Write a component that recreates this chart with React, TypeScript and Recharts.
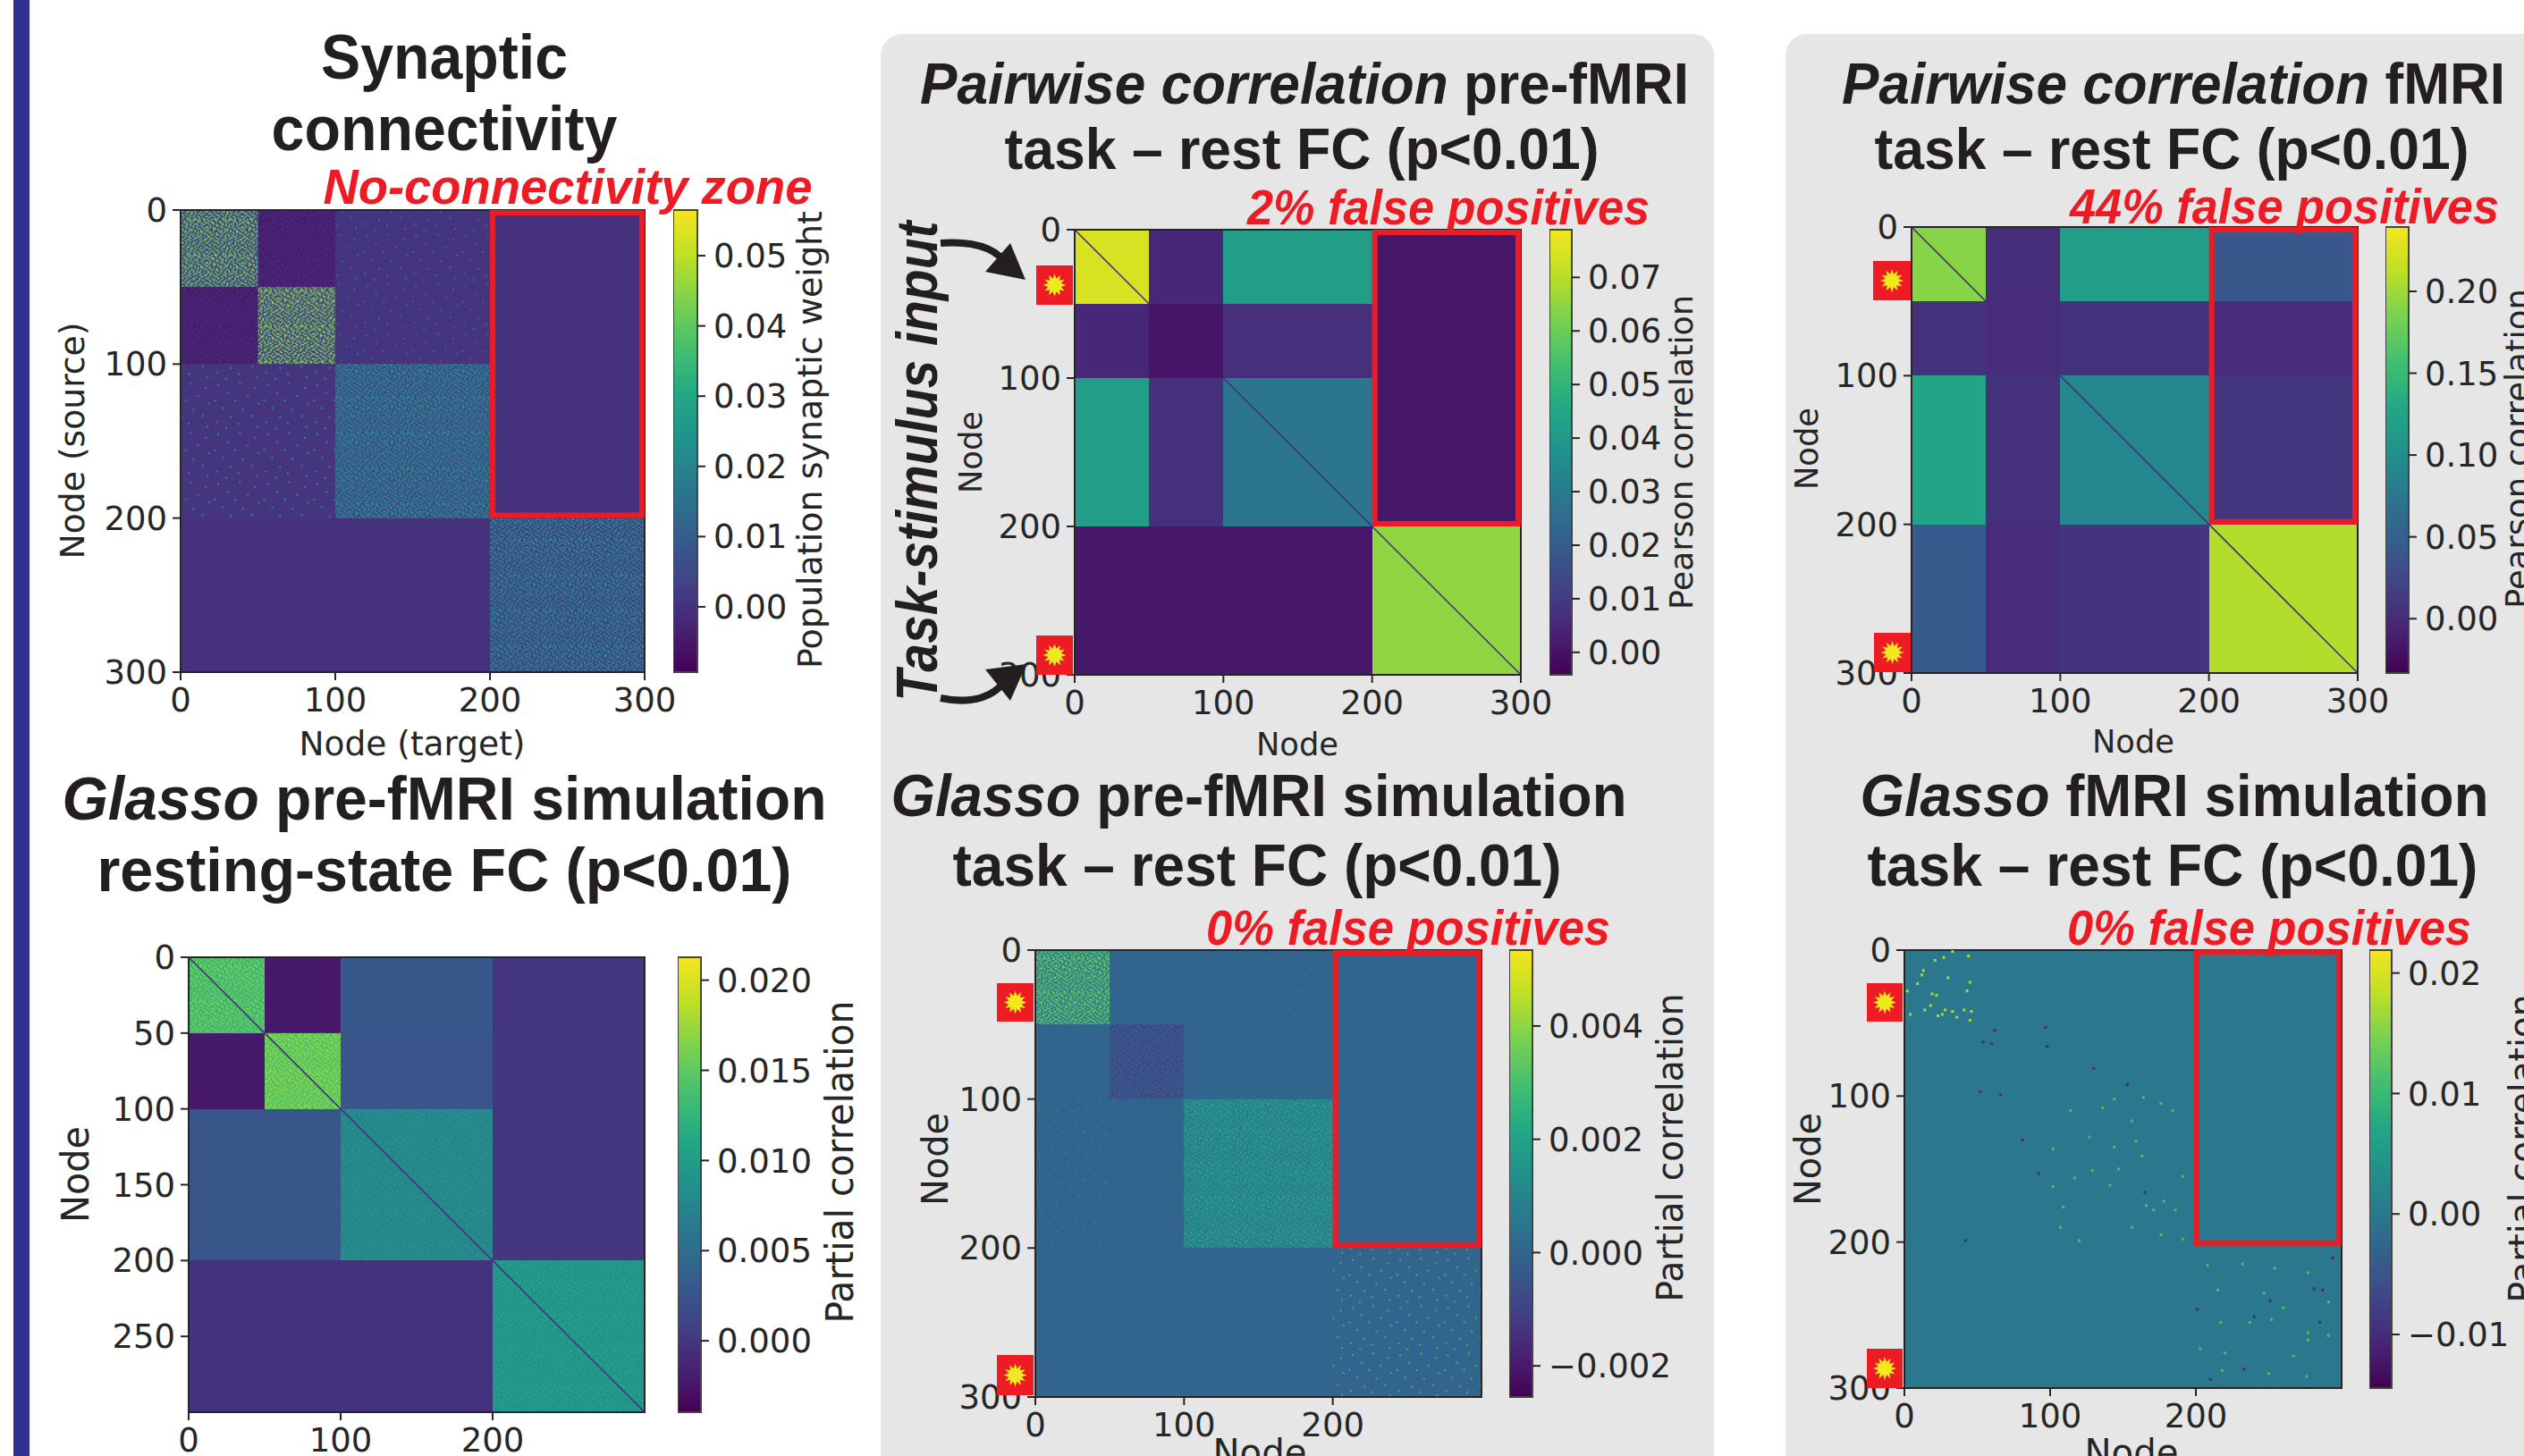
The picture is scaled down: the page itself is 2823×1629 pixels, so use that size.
import React from 'react';
import {
  ComposedChart,
  ReferenceArea,
  ReferenceLine,
  Scatter,
  XAxis,
  YAxis,
} from 'recharts';

// module boundaries shared by every matrix
const MODULE_EDGES = [0, 50, 100, 200, 300];

const VIRIDIS = ['#440154', '#482475', '#414487', '#355f8d', '#2a788e', '#21918c', '#22a884', '#44bf70', '#7ad151', '#bddf26', '#f4e61e'];

// block means
const synapticBase = [
  [0.004, -0.002, 0.0005, 0],
  [-0.002, 0.004, 0.0005, 0],
  [0.0005, 0.0005, 0.005, 0],
  [0, 0, 0, 0.003],
];
const synapticDense = [
  [0.042, -0.0055, null, null],
  [-0.0055, 0.044, null, null],
  [null, null, 0.024, null],
  [null, null, null, 0.024],
];
const synapticSparse = [
  [null, null, 0.02, null],
  [null, null, 0.018, null],
  [0.03, 0.03, null, null],
  [null, null, null, null],
];

const pairwisePreBase = [
  [0.0745, 0.005, 0.042, 0.0012],
  [0.005, 0.0005, 0.007, 0.0012],
  [0.042, 0.007, 0.028, 0.0012],
  [0.0012, 0.0012, 0.0012, 0.065],
];

const pairwiseFmriBase = [
  [0.19, 0.002, 0.118, 0.04],
  [0.006, 0.001, 0.006, 0.001],
  [0.125, 0.004, 0.092, 0.009],
  [0.045, 0.001, 0.008, 0.208],
];

const glassoPreRestBase = [
  [0.0125, -0.0022, 0.0029, 0],
  [-0.0022, 0.014, 0.0027, 0],
  [0.0028, 0.0028, 0.0068, 0],
  [-0.0003, -0.0003, -0.0003, 0.0085],
];
const glassoPreRestDense = [
  [0.0165, null, null, null],
  [null, 0.0175, null, null],
  [null, null, 0.0095, null],
  [null, null, null, 0.011],
];

const glassoPreTaskBase = [
  [0.0008, 0, 0, 0],
  [0, -0.0002, 0, 0],
  [0, 0, 0.0006, 0],
  [0, 0, 0, 0],
];
const glassoPreTaskDense = [
  [0.0036, null, null, null],
  [null, -0.0012, null, null],
  [null, null, 0.0021, null],
  [null, null, null, null],
];
const glassoPreTaskSparse = [
  [null, null, 0.001, null],
  [null, null, null, null],
  [0.0014, null, null, null],
  [null, null, null, 0.0032],
];

const glassoFmriBase = [
  [0, 0, 0, 0],
  [0, 0, 0, 0],
  [0, 0, 0, 0],
  [0, 0, 0, 0],
];

// single significant cells
const fmriStrongCells = [
  [2, 28], [9, 23], [13, 14], [21, 7], [27, 5], [33, 1], [44, 4], [12, 17], [19, 30], [22, 31], [30, 19], [45, 22],
  [43, 28], [4, 44], [14, 41], [26, 44], [28, 41], [36, 46], [41, 41], [46, 42], [45, 48], [18, 38], [23, 45], [33, 42],
].map(([x, y]) => ({ x, y }));
const fmriMidCells = [
  [114, 110], [136, 108], [144, 102], [164, 101], [176, 105], [184, 110], [156, 117], [127, 128], [159, 131], [144, 135],
  [163, 141], [102, 136], [147, 150], [129, 151], [117, 156], [141, 161], [102, 162], [178, 172], [171, 178], [166, 175],
  [186, 178], [109, 176], [107, 190], [120, 199], [156, 190], [176, 195], [191, 198], [191, 155], [208, 216], [232, 215],
  [254, 218], [277, 221], [215, 233], [247, 235], [260, 245], [217, 255], [237, 255], [252, 253], [277, 262], [277, 267],
  [220, 276], [267, 278], [291, 264], [291, 241], [203, 273], [250, 290], [276, 292], [218, 288],
].map(([x, y]) => ({ x, y }));
const fmriNegativeCells = [
  [97, 53], [62, 55], [54, 63], [60, 64], [98, 66], [130, 81], [153, 92], [52, 97], [66, 99], [81, 130], [92, 153],
  [165, 166], [42, 199], [201, 246], [281, 232], [287, 233], [251, 240], [240, 251], [285, 255], [233, 287], [210, 294], [294, 211],
].map(([x, y]) => ({ x, y }));

// hand drawn stipple, stands in for the cell noise inside the blocks
// '#' is a speck, '@' a brighter one
const DENSE_TILE = [
  '#..#.@#...#.#.###.#..@.',
  '.##...#.#..##.#..##..#.',
  '#..@#...##...#...#.#..#',
  '.#..#.#...@.#..##...##.',
  '..#...##.#..#.#..#.#...',
  '@.#.#....##...#.#...#.#',
  '.#..#@.#...#.#...##..#.',
  '#...#..#.#..@#.#...#..#',
  '.##.....##.#...#.#.@#..',
  '..#.#.@...#..#...#...##',
  '#..#..##.#..#.#.#..#...',
  '.@...#...#.#..#..##..#.',
  '#.##..#.#...@..##..#...',
  '..#.#..#..##..#...#..#@',
  '.#...##..#..#...#..##..',
  '#..#...@..#...##..#...#',
  '.#..##...#..#.#...#.#..',
  '..@...#.#..#....##...#.',
  '#...#..#..##.#.#...#..#',
  '.##..#...#...@..#.#..#.',
  '...#..##..#.#..#...##..',
  '#.#.#...#...#.#..@....#',
  '.#...#.#..##...#..#.#..',
];
const SPARSE_TILE = [
  [3, 2], [17, 1], [27, 4], [9, 7], [22, 9], [1, 12], [14, 12], [29, 14], [6, 17], [19, 18], [25, 22], [11, 23], [2, 26], [16, 27], [28, 29], [8, 30],
];

const FULL_DIAGONAL = [[0, 50], [100, 200], [200, 300]];
const REST_DIAGONAL = [[0, 50], [50, 100], [100, 200], [200, 300]];

// no-connectivity outline [x1, x2, y1, y2], drawn just inside the block
const INSET_BOX = [201.8, 298.2, 1.8, 198.2];
const FMRI_BOX = [200.6, 298, 1.5, 201];

const INK = '#262626';
const RED = '#ed1c24';
const TEXT_DARK = '#231f20';

function viridis(t: number) {
  const p = Math.min(0.9999, Math.max(0, t)) * (VIRIDIS.length - 1);
  const i = Math.floor(p);
  const f = p - i;
  const a = VIRIDIS[i];
  const b = VIRIDIS[i + 1];
  const ch = (s: string, k: number) => parseInt(s.slice(1 + k * 2, 3 + k * 2), 16);
  const mix = [0, 1, 2].map((k) => Math.round(ch(a, k) + (ch(b, k) - ch(a, k)) * f));
  return `rgb(${mix.join(',')})`;
}

interface Panel {
  id: string;
  x: number;
  y: number;
  w: number;
  h: number;
  cbarX: number;
  cbarW: number;
  min: number;
  max: number;
  cbarTicks: number[];
  digits: number;
  yTicks: number[];
  xTicks: number[];
  base: number[][];
  dense?: (number | null)[][];
  sparse?: (number | null)[][];
  diagonal?: number[][];
  redBox?: number[];
  cells?: boolean;
}

const panels: Panel[] = [
  {
    id: 'a', x: 202, y: 235, w: 519, h: 517, cbarX: 753, cbarW: 27, min: -0.0093, max: 0.0565,
    cbarTicks: [0, 0.01, 0.02, 0.03, 0.04, 0.05], digits: 2, yTicks: [0, 100, 200, 300], xTicks: [0, 100, 200, 300],
    base: synapticBase, dense: synapticDense, sparse: synapticSparse, redBox: INSET_BOX,
  },
  {
    id: 'b', x: 1202, y: 257, w: 499, h: 498, cbarX: 1733, cbarW: 25, min: -0.0042, max: 0.0789,
    cbarTicks: [0, 0.01, 0.02, 0.03, 0.04, 0.05, 0.06, 0.07], digits: 2, yTicks: [0, 100, 200, 300], xTicks: [0, 100, 200, 300],
    base: pairwisePreBase, diagonal: FULL_DIAGONAL, redBox: INSET_BOX,
  },
  {
    id: 'c', x: 2138, y: 254, w: 499, h: 499, cbarX: 2668, cbarW: 26, min: -0.0332, max: 0.2393,
    cbarTicks: [0, 0.05, 0.1, 0.15, 0.2], digits: 2, yTicks: [0, 100, 200, 300], xTicks: [0, 100, 200, 300],
    base: pairwiseFmriBase, diagonal: FULL_DIAGONAL, redBox: INSET_BOX,
  },
  {
    id: 'd', x: 211, y: 1071, w: 510, h: 509, cbarX: 758, cbarW: 26, min: -0.00396, max: 0.02127,
    cbarTicks: [0, 0.005, 0.01, 0.015, 0.02], digits: 3, yTicks: [0, 50, 100, 150, 200, 250], xTicks: [0, 100, 200],
    base: glassoPreRestBase, dense: glassoPreRestDense, diagonal: REST_DIAGONAL,
  },
  {
    id: 'e', x: 1158, y: 1063, w: 499, h: 500, cbarX: 1688, cbarW: 26, min: -0.00255, max: 0.00534,
    cbarTicks: [-0.002, 0, 0.002, 0.004], digits: 3, yTicks: [0, 100, 200, 300], xTicks: [0, 100, 200],
    base: glassoPreTaskBase, dense: glassoPreTaskDense, sparse: glassoPreTaskSparse, redBox: INSET_BOX,
  },
  {
    id: 'f', x: 2130, y: 1063, w: 489, h: 490, cbarX: 2650, cbarW: 25, min: -0.01445, max: 0.0219,
    cbarTicks: [-0.01, 0, 0.01, 0.02], digits: 2, yTicks: [0, 100, 200, 300], xTicks: [0, 100, 200],
    base: glassoFmriBase, redBox: FMRI_BOX, cells: true,
  },
];

const tickStyle = { fontSize: 37, fill: INK, fontFamily: 'DejaVu Sans' };
const PAD_L = 130;
const PAD_T = 30;
const PAD_R = 44;
const PAD_B = 70;

function colorOf(p: Panel, v: number) {
  return viridis((v - p.min) / (p.max - p.min));
}

function Square(props: any) {
  return <rect x={props.cx - 1.5} y={props.cy - 1.5} width={3} height={3} fill={props.fill} />;
}

function Stipples({ panel }: { panel: Panel }) {
  const cell = panel.w / 300;
  const size = DENSE_TILE.length;
  const out: React.ReactNode[] = [];
  (panel.dense ?? []).forEach((row, r) =>
    row.forEach((v, c) => {
      if (v === null) return;
      const bright = colorOf(panel, v + (v - panel.base[r][c]) * 0.3);
      out.push(
        <pattern key={`d${r}${c}`} id={`${panel.id}-d-${r}-${c}`} patternUnits="userSpaceOnUse" width={size * cell} height={size * cell}>
          {DENSE_TILE.flatMap((line, ty) =>
            line.split('').map((m, tx) =>
              m === '.' ? null : (
                <rect key={`${tx}-${ty}`} x={tx * cell} y={ty * cell} width={cell} height={cell} fill={m === '@' ? bright : colorOf(panel, v)} />
              ),
            ),
          )}
        </pattern>,
      );
    }),
  );
  (panel.sparse ?? []).forEach((row, r) =>
    row.forEach((v, c) => {
      if (v === null) return;
      out.push(
        <pattern key={`s${r}${c}`} id={`${panel.id}-s-${r}-${c}`} patternUnits="userSpaceOnUse" width={32 * cell} height={32 * cell}>
          {SPARSE_TILE.map(([tx, ty]) => (
            <rect key={`${tx}-${ty}`} x={tx * cell} y={ty * cell} width={cell} height={cell} fill={colorOf(panel, v)} />
          ))}
        </pattern>,
      );
    }),
  );
  return <>{out}</>;
}

function blockAreas(panel: Panel) {
  const areas: React.ReactElement[] = [];
  const box = (r: number, c: number) => ({
    x1: MODULE_EDGES[c], x2: MODULE_EDGES[c + 1], y1: MODULE_EDGES[r], y2: MODULE_EDGES[r + 1],
  });
  panel.base.forEach((row, r) =>
    row.forEach((v, c) => {
      areas.push(
        <ReferenceArea key={`b${r}${c}`} {...box(r, c)} fill={colorOf(panel, v)} fillOpacity={1} stroke="none" shapeRendering="crispEdges" />,
      );
      if (panel.dense?.[r][c] != null) {
        areas.push(
          <ReferenceArea key={`d${r}${c}`} {...box(r, c)} fill={`url(#${panel.id}-d-${r}-${c})`} fillOpacity={1} stroke="none" />,
        );
      }
      if (panel.sparse?.[r][c] != null) {
        areas.push(
          <ReferenceArea key={`s${r}${c}`} {...box(r, c)} fill={`url(#${panel.id}-s-${r}-${c})`} fillOpacity={1} stroke="none" />,
        );
      }
    }),
  );
  return areas;
}

function Matrix({ panel }: { panel: Panel }) {
  const width = panel.w + PAD_L + PAD_R;
  const height = panel.h + PAD_T + PAD_B;
  return (
    <div style={{ position: 'absolute', left: panel.x - PAD_L, top: panel.y - PAD_T }}>
      <ComposedChart width={width} height={height} margin={{ top: PAD_T, right: PAD_R, bottom: 0, left: 0 }}>
        <XAxis
          type="number"
          dataKey="x"
          domain={[0, 300]}
          ticks={panel.xTicks}
          interval={0}
          allowDataOverflow
          height={PAD_B}
          tick={tickStyle}
          tickSize={9}
          tickMargin={9}
          tickLine={{ stroke: INK, strokeWidth: 2 }}
          axisLine={{ stroke: INK, strokeWidth: 2 }}
        />
        <YAxis
          type="number"
          dataKey="y"
          reversed
          domain={[0, 300]}
          ticks={panel.yTicks}
          interval={0}
          allowDataOverflow
          width={PAD_L}
          tick={tickStyle}
          tickSize={9}
          tickMargin={6}
          tickLine={{ stroke: INK, strokeWidth: 2 }}
          axisLine={{ stroke: INK, strokeWidth: 2 }}
        />
        {blockAreas(panel)}
        {(panel.diagonal ?? []).map(([a, b]) => (
          <ReferenceLine
            key={a}
            segment={[{ x: a, y: a }, { x: b, y: b }]}
            stroke="#46327e"
            strokeWidth={1.6}
          />
        ))}
        <ReferenceArea x1={0} x2={300} y1={0} y2={300} fill="none" stroke={INK} strokeWidth={2} />
        {panel.redBox && (
          <ReferenceArea
            x1={panel.redBox[0]}
            x2={panel.redBox[1]}
            y1={panel.redBox[2]}
            y2={panel.redBox[3]}
            fill="none"
            fillOpacity={0}
            stroke={RED}
            strokeWidth={6}
          />
        )}
        {panel.cells && (
          <Scatter data={fmriStrongCells} fill={colorOf(panel, 0.017)} shape={Square} isAnimationActive={false} />
        )}
        {panel.cells && (
          <Scatter data={fmriMidCells} fill={colorOf(panel, 0.011)} shape={Square} isAnimationActive={false} />
        )}
        {panel.cells && (
          <Scatter data={fmriNegativeCells} fill={colorOf(panel, -0.01)} shape={Square} isAnimationActive={false} />
        )}
      </ComposedChart>
    </div>
  );
}

function ColorBar({ panel }: { panel: Panel }) {
  const axisWidth = 170;
  const fmt = (v: number) => v.toFixed(panel.digits).replace('-', '\u2212');
  return (
    <div style={{ position: 'absolute', left: panel.cbarX, top: panel.y - PAD_T }}>
      <ComposedChart
        width={panel.cbarW + axisWidth}
        height={panel.h + 2 * PAD_T}
        margin={{ top: PAD_T, right: 0, bottom: PAD_T, left: 0 }}
      >
        <XAxis type="number" dataKey="x" domain={[0, 1]} allowDataOverflow hide />
        <YAxis
          type="number"
          dataKey="y"
          orientation="right"
          domain={[panel.min, panel.max]}
          ticks={panel.cbarTicks}
          interval={0}
          allowDataOverflow
          width={axisWidth}
          tick={tickStyle}
          tickFormatter={fmt}
          tickSize={9}
          tickMargin={9}
          tickLine={{ stroke: INK, strokeWidth: 2 }}
          axisLine={false}
        />
        <ReferenceArea
          x1={0}
          x2={1}
          y1={panel.min}
          y2={panel.max}
          ifOverflow="visible"
          fill="url(#viridis-bar)"
          fillOpacity={1}
          stroke="#444"
          strokeWidth={2}
        />
      </ComposedChart>
    </div>
  );
}

interface LabelProps {
  x: number;
  y: number;
  len: number;
  size: number;
  rotate?: boolean;
  children: React.ReactNode;
  bold?: boolean;
  italic?: boolean;
  fill?: string;
  mono?: boolean;
}

function Label({ x, y, len, size, rotate, children, bold, italic, fill, mono }: LabelProps) {
  return (
    <text
      x={x}
      y={y}
      transform={rotate ? `rotate(-90 ${x} ${y})` : undefined}
      textAnchor="middle"
      dominantBaseline="central"
      textLength={len}
      lengthAdjust="spacingAndGlyphs"
      fontFamily={mono ? 'DejaVu Sans' : 'Liberation Sans'}
      fontWeight={bold ? 700 : 400}
      fontStyle={italic ? 'italic' : 'normal'}
      fontSize={size}
      fill={fill ?? (mono ? INK : TEXT_DARK)}
    >
      {children}
    </text>
  );
}

function Title({ x, y, len, size, em, rest }: { x: number; y: number; len: number; size: number; em?: string; rest: string }) {
  return (
    <Label x={x} y={y} len={len} size={size} bold>
      {em && <tspan fontStyle="italic">{em}</tspan>}
      {rest}
    </Label>
  );
}

function Stimulus({ x, y, w, h }: { x: number; y: number; w: number; h: number }) {
  const cx = x + w / 2;
  const cy = y + h / 2;
  const pts: string[] = [];
  for (let i = 0; i < 24; i++) {
    const r = i % 2 === 0 ? 13 : 7.5;
    const a = (i * Math.PI) / 12;
    pts.push(`${cx + r * Math.sin(a)},${cy - r * Math.cos(a)}`);
  }
  return (
    <g>
      <rect x={x} y={y} width={w} height={h} fill={RED} />
      <polygon points={pts.join(' ')} fill="#f2e81f" />
    </g>
  );
}

export default function App() {
  return (
    <div style={{ position: 'absolute', left: 0, top: 0, width: 2823, height: 1629, overflow: 'hidden', background: '#fff' }}>
      <div style={{ position: 'absolute', left: 15, top: 0, width: 18, height: 1629, background: '#2e3192' }} />
      <div style={{ position: 'absolute', left: 985, top: 38, width: 932, height: 1640, background: '#e6e6e6', borderRadius: 24 }} />
      <div style={{ position: 'absolute', left: 1997, top: 38, width: 900, height: 1640, background: '#e6e6e6', borderRadius: 24 }} />

      <svg width={0} height={0} style={{ position: 'absolute' }}>
        <defs>
          <linearGradient id="viridis-bar" x1="0" y1="1" x2="0" y2="0">
            {VIRIDIS.map((c, i) => (
              <stop key={c} offset={i / (VIRIDIS.length - 1)} stopColor={c} />
            ))}
          </linearGradient>
          {panels.map((p) => (
            <Stipples key={p.id} panel={p} />
          ))}
        </defs>
      </svg>

      {panels.map((p) => (
        <React.Fragment key={p.id}>
          <Matrix panel={p} />
          <ColorBar panel={p} />
        </React.Fragment>
      ))}

      <svg width={2823} height={1629} style={{ position: 'absolute', left: 0, top: 0, pointerEvents: 'none' }}>
        <Title x={497} y={64} len={276} size={70} rest="Synaptic" />
        <Title x={497} y={144} len={387} size={70} rest="connectivity" />
        <Title x={497} y={893} len={855} size={68} em="Glasso" rest=" pre-fMRI simulation" />
        <Title x={497} y={973} len={777} size={68} rest="resting-state FC (p<0.01)" />
        <Title x={1459} y={93} len={860} size={65} em="Pairwise correlation" rest=" pre-fMRI" />
        <Title x={1456} y={166} len={665} size={65} rest="task – rest FC (p<0.01)" />
        <Title x={2431} y={93} len={742} size={65} em="Pairwise correlation" rest=" fMRI" />
        <Title x={2429} y={166} len={665} size={65} rest="task – rest FC (p<0.01)" />
        <Title x={1408} y={890} len={823} size={66} em="Glasso" rest=" pre-fMRI simulation" />
        <Title x={1406} y={968} len={681} size={66} rest="task – rest FC (p<0.01)" />
        <Title x={2432} y={890} len={703} size={66} em="Glasso" rest=" fMRI simulation" />
        <Title x={2430} y={968} len={683} size={66} rest="task – rest FC (p<0.01)" />

        <Label x={635} y={208} len={547} size={56} bold italic fill={RED}>No-connectivity zone</Label>
        <Label x={1620} y={231} len={450} size={56} bold italic fill={RED}>2% false positives</Label>
        <Label x={2555} y={230} len={480} size={56} bold italic fill={RED}>44% false positives</Label>
        <Label x={1575} y={1037} len={452} size={56} bold italic fill={RED}>0% false positives</Label>
        <Label x={2538} y={1037} len={452} size={56} bold italic fill={RED}>0% false positives</Label>

        <Label mono x={461} y={832} len={253} size={37}>Node (target)</Label>
        <Label mono rotate x={81} y={493} len={265} size={37}>Node (source)</Label>
        <Label mono rotate x={906} y={492} len={512} size={37}>Population synaptic weight</Label>

        <Label mono rotate x={1085} y={506} len={92} size={36}>Node</Label>
        <Label mono x={1451} y={832} len={92} size={36}>Node</Label>
        <Label mono rotate x={1880} y={506} len={352} size={36}>Pearson correlation</Label>

        <Label mono rotate x={2020} y={502} len={92} size={36}>Node</Label>
        <Label mono x={2386} y={829} len={92} size={36}>Node</Label>
        <Label mono rotate x={2816} y={502} len={358} size={37}>Pearson correlation</Label>

        <Label mono rotate x={84} y={1314} len={108} size={42}>Node</Label>
        <Label mono rotate x={939} y={1300} len={361} size={42}>Partial correlation</Label>

        <Label mono rotate x={1046} y={1297} len={104} size={41}>Node</Label>
        <Label mono x={1409} y={1625} len={105} size={41}>Node</Label>
        <Label mono rotate x={1868} y={1284} len={345} size={41}>Partial correlation</Label>

        <Label mono rotate x={2022} y={1297} len={104} size={41}>Node</Label>
        <Label mono x={2384} y={1625} len={105} size={41}>Node</Label>
        <Label mono rotate x={2821} y={1285} len={345} size={41}>Partial correlation</Label>

        <Label rotate bold italic x={1026} y={516} len={537} size={64}>Task-stimulus input</Label>

        <path d="M1052 272 Q1110 268 1127 298" fill="none" stroke="#231f20" strokeWidth={8} />
        <polygon points="1147,313 1130,272 1102,304" fill="#231f20" />
        <path d="M1052 781 Q1105 792 1128 757" fill="none" stroke="#231f20" strokeWidth={8} />
        <polygon points="1148,743 1102,749 1130,784" fill="#231f20" />

        <Stimulus x={1159} y={297} w={41} h={44} />
        <Stimulus x={1159} y={711} w={41} h={44} />
        <Stimulus x={2095} y={292} w={42} h={44} />
        <Stimulus x={2096} y={708} w={41} h={44} />
        <Stimulus x={1115} y={1100} w={41} h={43} />
        <Stimulus x={1115} y={1516} w={41} h={45} />
        <Stimulus x={2088} y={1100} w={40} h={43} />
        <Stimulus x={2088} y={1509} w={40} h={44} />
      </svg>
    </div>
  );
}
